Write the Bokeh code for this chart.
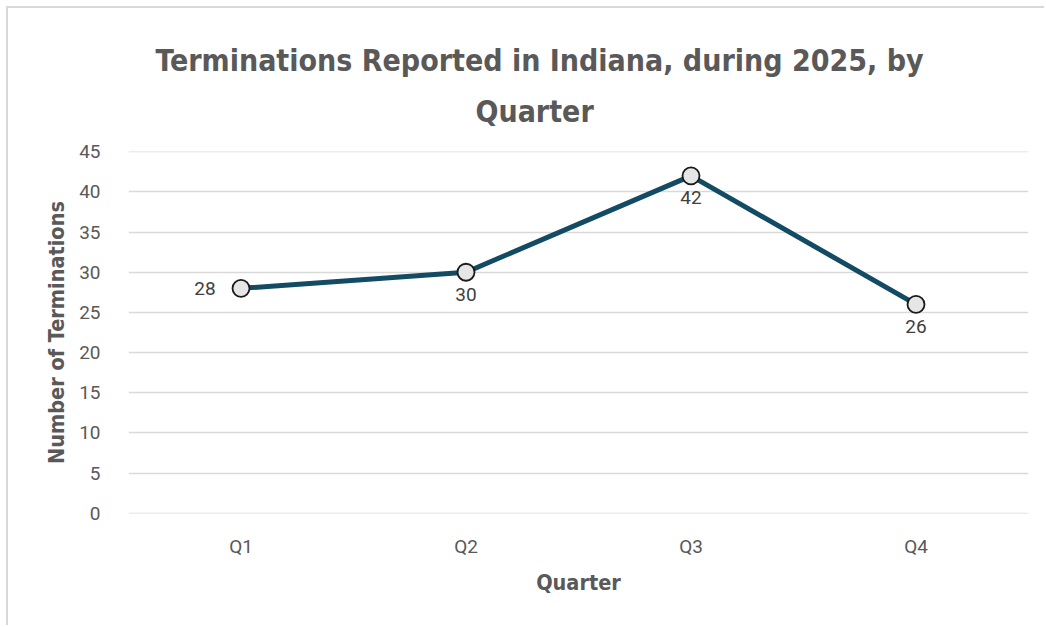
from bokeh.plotting import figure
from bokeh.models import Title, ColumnDataSource, LabelSet, SingleIntervalTicker, Range1d
from bokeh.core.properties import value
from bokeh.embed import file_html
from bokeh.resources import INLINE

quarters = ["Q1", "Q2", "Q3", "Q4"]
terminations = [28, 30, 42, 26]
label_x_offsets = [-36, 0, 0, 0]
label_y_offsets = [0, -22, -22, -22]

NARROW = "'Liberation Sans Narrow', 'DejaVu Sans Condensed', sans-serif"
GRAY = "#595959"

src = ColumnDataSource(dict(q=quarters, v=terminations, t=[str(v) for v in terminations],
                            xo=label_x_offsets, yo=label_y_offsets))

p = figure(x_range=quarters, width=1038, height=619, output_backend="svg",
           toolbar_location=None, title=None,
           min_border_left=120, min_border_right=18, min_border_top=143, min_border_bottom=114)
p.y_range = Range1d(-0.03, 45.03)
p.x_range.range_padding = 0

p.line("q", "v", source=src, line_color="#124B63", line_width=5)
p.scatter("q", "v", source=src, size=17, fill_color="#E6E6E6", line_color="#1a1a1a", line_width=1.8)

labels = LabelSet(x="q", y="v", text="t", source=src, x_offset="xo", y_offset="yo",
                  text_align="center", text_baseline="middle", text_font_size="19px",
                  text_color="#404040", text_font=value("Roboto"))
p.add_layout(labels)

p.add_layout(Title(text="Quarter", align="left", offset=347, text_font_size="30px", text_font=NARROW,
                   text_font_style="bold", text_color=GRAY, standoff=45), "above")
p.add_layout(Title(text="Terminations Reported in Indiana, during 2025, by", align="left", offset=27,
                   text_font_size="30px", text_font=NARROW, text_font_style="bold",
                   text_color=GRAY, standoff=-16), "above")

p.yaxis.ticker = SingleIntervalTicker(interval=5)
for ax in (p.xaxis[0], p.yaxis[0]):
    ax.axis_line_color = None
    ax.major_tick_line_color = None
    ax.minor_tick_line_color = None
    ax.major_label_text_color = GRAY
    ax.axis_label_text_color = GRAY
    ax.axis_label_text_font_style = "bold"
    ax.axis_label_text_font = NARROW
    ax.axis_label_text_font_size = "21.5px"

p.yaxis.major_label_text_font = "Roboto"
p.yaxis.major_label_text_font_size = "19px"
p.yaxis.major_label_standoff = 22
p.yaxis.axis_label = "Number of Terminations"
p.yaxis.axis_label_standoff = 7

p.xaxis.major_label_text_font = "Roboto"
p.xaxis.major_label_text_font_size = "19px"
p.xaxis.major_label_standoff = 15
p.xaxis.axis_label = "Quarter"
p.xaxis.axis_label_standoff = 9

p.xgrid.grid_line_color = None
p.ygrid.grid_line_color = "#D9D9D9"
p.ygrid.grid_line_width = 1.5
p.outline_line_color = None
p.styles = {"border-left": "2px solid #D9D9D9", "border-top": "2px solid #D9D9D9",
            "margin-left": "6px", "margin-top": "6px"}

open("out.html", "w").write(file_html(p, INLINE))
